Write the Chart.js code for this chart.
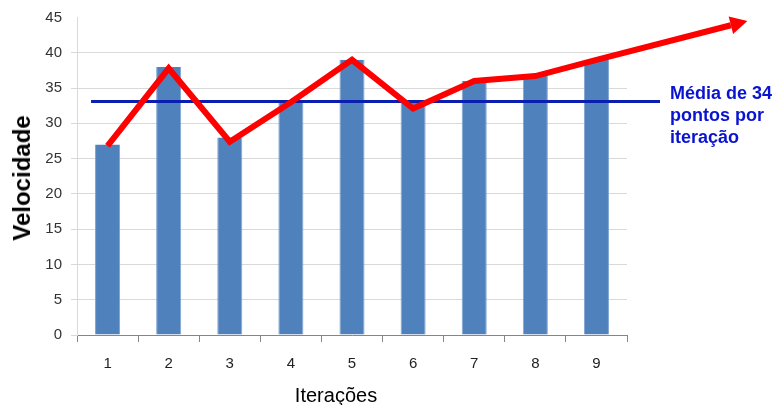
<!DOCTYPE html>
<html>
<head>
<meta charset="utf-8">
<script src="https://cdn.jsdelivr.net/npm/chart.js@4.4.0/dist/chart.umd.min.js"></script>
<style>
  body { margin: 0; background: #fff; }
  #wrap { position: relative; width: 775px; height: 405px; }
  .lbl { position: absolute; font-family: "Liberation Sans", Arial, sans-serif; white-space: nowrap; }
  #ytitle { left: 22px; top: 178px; font-size: 24px; font-weight: bold; color: #000;
            transform: translate(-50%, -50%) rotate(-90deg); }
  #xtitle { left: 336px; top: 395px; font-size: 20px; color: #000; transform: translate(-50%, -50%); }
  #media { left: 670px; top: 82px; font-size: 18px; font-weight: bold; color: #0a14d0; line-height: 22px; }
</style>
</head>
<body>
<div id="wrap">
  <canvas id="chart" width="775" height="405"></canvas>
  <div class="lbl" id="ytitle">Velocidade</div>
  <div class="lbl" id="xtitle">Iterações</div>
  <div class="lbl" id="media">Média de 34<br>pontos por<br>iteração</div>
</div>
<script>
// dados
const iteracoes = ['1', '2', '3', '4', '5', '6', '7', '8', '9'];
const velocidade = [27, 38, 28, 33, 39, 33, 36, 37, 39];
const tendencia = [26.8, 37.8, 27.4, 33, 39, 32.1, 36, 36.7, 39];
const baseSeta = { x: 10.2, y: 43.9 };       // base da ponta da seta vermelha
const mediaValor = 33.1;
const mediaInicioFim = [-0.27, 9.04];        // extensão da linha azul
const yTicks = [0, 5, 10, 15, 20, 25, 30, 35, 40, 45];

const tickFont = { family: '"Liberation Sans", Arial, sans-serif', size: 15 };

const trendData = tendencia.map((v, i) => ({ x: i, y: v })).concat([baseSeta]);
const mediaData = mediaInicioFim.map(x => ({ x: x, y: mediaValor }));

// desenha a ponta da seta no fim da linha vermelha
const arrowHead = {
    id: 'arrowHead',
    afterDatasetsDraw(chart) {
        const pts = chart.getDatasetMeta(0).data;
        const a = pts[pts.length - 2], b = pts[pts.length - 1];
        const dx = b.x - a.x, dy = b.y - a.y;
        const len = Math.hypot(dx, dy);
        const ux = dx / len, uy = dy / len;
        const L = 17, W = 18;
        const ctx = chart.ctx;
        ctx.save();
        ctx.fillStyle = '#ff0000';
        ctx.beginPath();
        ctx.moveTo(b.x + ux * L, b.y + uy * L);
        ctx.lineTo(b.x - uy * W / 2, b.y + ux * W / 2);
        ctx.lineTo(b.x + uy * W / 2, b.y - ux * W / 2);
        ctx.closePath();
        ctx.fill();
        ctx.restore();
    }
};

new Chart(document.getElementById('chart'), {
    type: 'bar',
    data: {
        labels: iteracoes,
        datasets: [
            {
                type: 'line',
                data: trendData,
                xAxisID: 'xl',
                borderColor: '#ff0000',
                borderWidth: 6,
                borderJoinStyle: 'miter',
                borderCapStyle: 'butt',
                tension: 0,
                clip: false,
                pointRadius: 0,
                order: 0
            },
            {
                type: 'line',
                data: mediaData,
                xAxisID: 'xl',
                borderColor: '#0a1fb0',
                borderWidth: 3,
                pointRadius: 0,
                clip: false,
                order: 1
            },
            {
                type: 'bar',
                data: velocidade,
                xAxisID: 'x',
                backgroundColor: '#4f81bd',
                borderColor: '#7fa3d0',
                borderWidth: { left: 1, right: 1, top: 0, bottom: 0 },
                grouped: false,
                barPercentage: 0.41,
                categoryPercentage: 1,
                order: 2
            }
        ]
    },
    options: {
        responsive: false,
        animation: false,
        events: [],
        layout: { padding: { top: 17.5, right: 148, left: 0, bottom: 0 } },
        plugins: { legend: { display: false }, tooltip: { enabled: false } },
        scales: {
            x: {
                type: 'category',
                offset: true,
                grid: { offset: true, drawOnChartArea: false, drawTicks: true, tickLength: 7, color: '#868686' },
                border: { color: '#868686', width: 1 },
                ticks: { font: tickFont, color: '#222', padding: 13 },
                afterFit: s => { s.height = 70; }
            },
            xl: {
                type: 'linear',
                display: false,
                offset: false,
                min: -0.5,
                max: 8.5
            },
            y: {
                min: 0,
                max: 45,
                afterBuildTicks: s => { s.ticks = yTicks.map(v => ({ value: v })); },
                grid: {
                    color: ctx => (ctx.tick && ctx.tick.value === 45) ? 'rgba(0,0,0,0)' : '#d9d9d9',
                    drawTicks: true,
                    tickLength: 6
                },
                border: { color: '#d9d9d9' },
                ticks: { font: tickFont, color: '#333', padding: 9 },
                afterFit: s => { s.width = 77; s.paddingTop = 0; s.paddingBottom = 0; }
            }
        }
    },
    plugins: [arrowHead]
});
</script>
</body>
</html>
